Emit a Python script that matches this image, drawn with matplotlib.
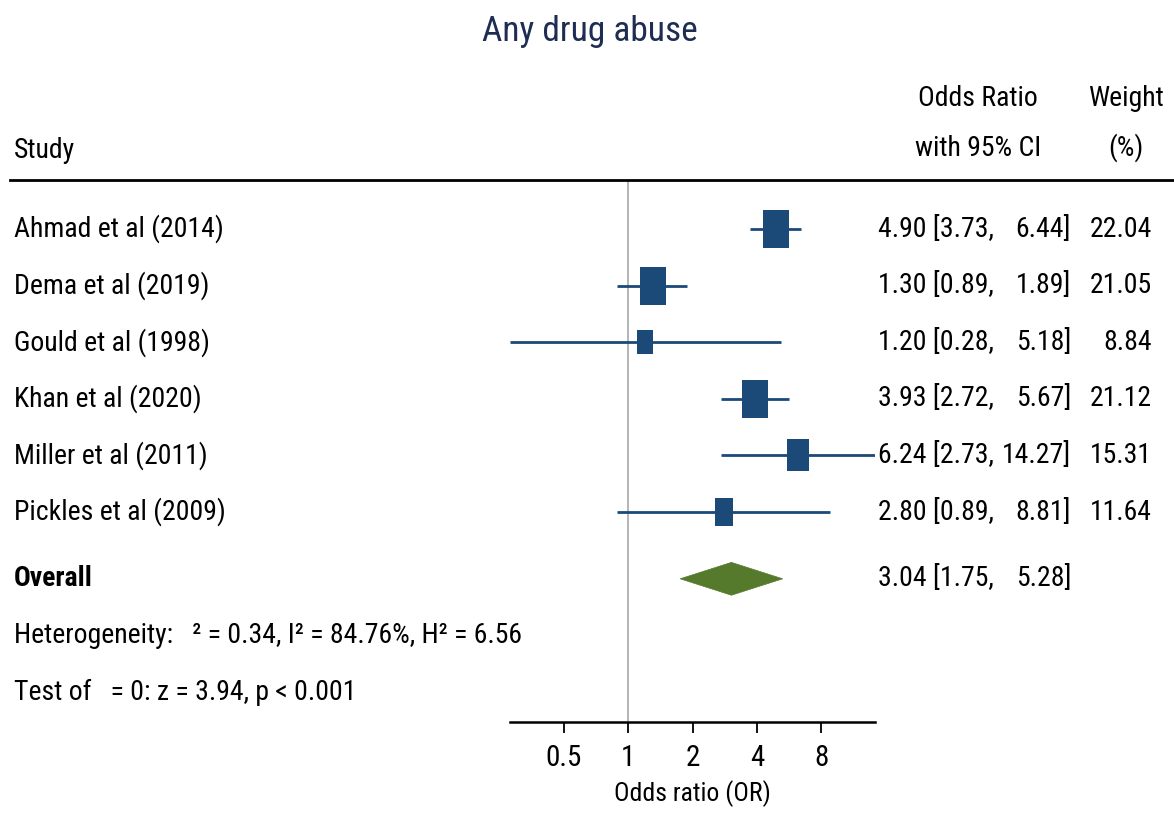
import numpy as np
import matplotlib
matplotlib.use("Agg")
import matplotlib.pyplot as plt
from matplotlib.path import Path
from matplotlib.patches import Polygon
from matplotlib.lines import Line2D
from matplotlib.transforms import blended_transform_factory

plt.rcParams['font.family'] = ['Roboto Condensed', 'Liberation Sans', 'DejaVu Sans']

# data
studies = ["Ahmad et al (2014)", "Dema et al (2019)", "Gould et al (1998)",
           "Khan et al (2020)", "Miller et al (2011)", "Pickles et al (2009)"]
odds = [4.90, 1.30, 1.20, 3.93, 6.24, 2.80]
lower = [3.73, 0.89, 0.28, 2.72, 2.73, 0.89]
upper = [6.44, 1.89, 5.18, 5.67, 14.27, 8.81]
weights = [22.04, 21.05, 8.84, 21.12, 15.31, 11.64]
overall = (3.04, 1.75, 5.28)
het_text = "Heterogeneity:   \u00b2 = 0.34, I\u00b2 = 84.76%, H\u00b2 = 6.56"
test_text = "Test of   = 0: z = 3.94, p < 0.001"
ticks = [0.5, 1, 2, 4, 8]

navy = "#1b4a78"
green = "#567a2c"
fs = 20

W, H = 1174, 814
fig = plt.figure(figsize=(W / 100, H / 100), dpi=100)
ax = fig.add_axes([510 / W, 92 / H, 365 / W, 542 / H])

rows = np.arange(len(studies))
y_overall = 6.18
y_het = 7.19
y_test = 8.19

ax.set_xscale('log')
ax.set_xlim(min(lower), max(upper))
ax.set_ylim(8.71, -0.866)

ax.axvline(1, color="#a8a8a8", lw=1.2, zorder=0)

# box marker, taller than wide like the reference
box = Path([(-1, -1.5), (1, -1.5), (1, 1.5), (-1, 1.5), (-1, -1.5)],
           [Path.MOVETO, Path.LINETO, Path.LINETO, Path.LINETO, Path.CLOSEPOLY])
for i in rows:
    ax.plot([lower[i], upper[i]], [i, i], color=navy, lw=2.0, solid_capstyle='butt', zorder=2)
    ms = 0.72 * 8.3 * np.sqrt(weights[i])
    ax.plot(odds[i], i, marker=box, ms=ms, color=navy, mec=navy, mew=0, zorder=3)

est, lo, hi = overall
dh = 0.29
ax.add_patch(Polygon([(lo, y_overall), (est, y_overall - dh), (hi, y_overall), (est, y_overall + dh)],
                     closed=True, facecolor=green, edgecolor=green, lw=0.5, zorder=3))

for s in ['top', 'left', 'right']:
    ax.spines[s].set_visible(False)
ax.spines['bottom'].set_linewidth(1.8)
ax.set_yticks([])
ax.set_xticks(ticks)
ax.set_xticklabels([f"{t:g}" for t in ticks])
ax.xaxis.set_minor_locator(matplotlib.ticker.NullLocator())
ax.tick_params(axis='x', direction='out', length=8, width=1.3, labelsize=21, pad=8)
ax.set_xlabel("Odds ratio (OR)", fontsize=18.5, labelpad=6)

tr = blended_transform_factory(fig.transFigure, ax.transData)
for i in rows:
    ax.text(14 / W, i, studies[i], transform=tr, fontsize=fs, va='center', ha='left')
    ax.text(878 / W, i, f"{odds[i]:.2f} [{lower[i]:.2f},", transform=tr, fontsize=fs, va='center', ha='left')
    ax.text(1071 / W, i, f"{upper[i]:.2f}]", transform=tr, fontsize=fs, va='center', ha='right')
    ax.text(1152 / W, i, f"{weights[i]:.2f}", transform=tr, fontsize=fs, va='center', ha='right')

ax.text(14 / W, y_overall, "Overall", transform=tr, fontsize=fs, va='center', ha='left', fontweight='bold')
ax.text(878 / W, y_overall, f"{est:.2f} [{lo:.2f},", transform=tr, fontsize=fs, va='center', ha='left')
ax.text(1071 / W, y_overall, f"{hi:.2f}]", transform=tr, fontsize=fs, va='center', ha='right')
ax.text(14 / W, y_het, het_text, transform=tr, fontsize=fs, va='center', ha='left')
ax.text(14 / W, y_test, test_text, transform=tr, fontsize=fs, va='center', ha='left')

# headers
fig.text(590 / W, 1 - 32 / H, "Any drug abuse", fontsize=25.5, color="#1f2d52", ha='center', va='center')
fig.text(14 / W, 1 - 150 / H, "Study", fontsize=fs, ha='left', va='center')
fig.text(978 / W, 1 - 98 / H, "Odds Ratio", fontsize=fs, ha='center', va='center')
fig.text(978 / W, 1 - 148 / H, "with 95% CI", fontsize=fs, ha='center', va='center')
fig.text(1126 / W, 1 - 98 / H, "Weight", fontsize=fs, ha='center', va='center')
fig.text(1126 / W, 1 - 148 / H, "(%)", fontsize=fs, ha='center', va='center')
fig.add_artist(Line2D([10 / W, 1], [1 - 180 / H, 1 - 180 / H], color='black', lw=2.0,
                      transform=fig.transFigure))

fig.savefig("out.png", dpi=100, facecolor='white')
